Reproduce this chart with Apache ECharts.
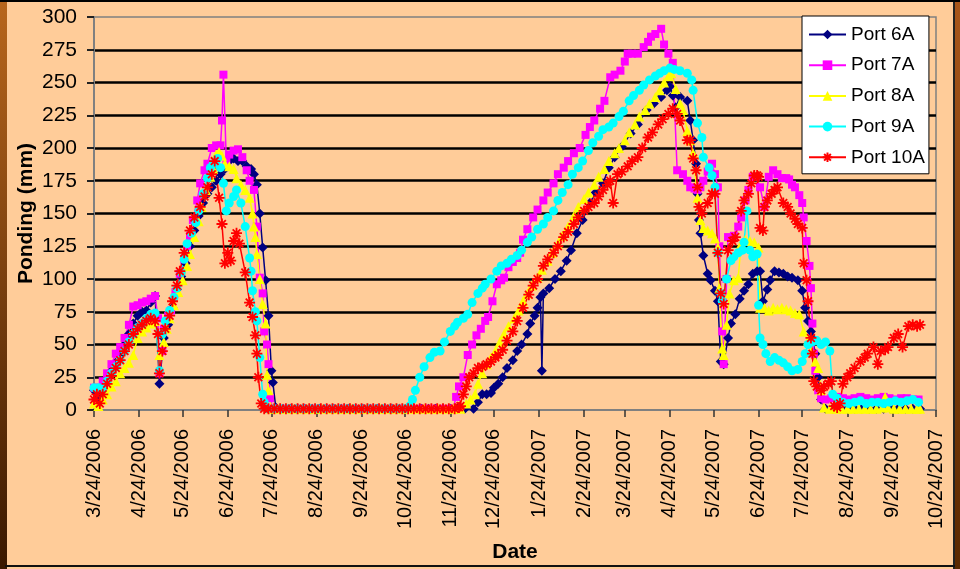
<!DOCTYPE html>
<html>
<head>
<meta charset="utf-8">
<script src="https://cdn.jsdelivr.net/npm/echarts@6/dist/echarts.min.js"></script>
<style>
  html, body { margin: 0; padding: 0; background: #FFCC99; }
  #chart { width: 960px; height: 569px; }
</style>
</head>
<body>
<div id="chart"></div>
<script>
// x values are days since 3/24/2006, y values are ponding in mm
const tickLabels = ["3/24/2006", "4/24/2006", "5/24/2006", "6/24/2006", "7/24/2006", "8/24/2006",
  "9/24/2006", "10/24/2006", "11/24/2006", "12/24/2006", "1/24/2007", "2/24/2007", "3/24/2007",
  "4/24/2007", "5/24/2007", "6/24/2007", "7/24/2007", "8/24/2007", "9/24/2007", "10/24/2007"];
const yTicks = [0, 25, 50, 75, 100, 125, 150, 175, 200, 225, 250, 275, 300];

const port6A = [
  [0,15],[3,10],[6,18],[9,25],[12,30],[15,36],[18,42],[21,50],[24,58],[27,66],[30,72],[33,75],[36,76],[39,82],[42,87],[45,20],
  [48,55],[51,65],[54,78],[57,92],[60,102],[63,112],[66,125],[69,137],[72,148],[75,158],[78,165],[81,170],[84,175],[87,180],
  [90,184],[93,190],[96,192],[99,190],[102,190],[105,186],[108,184],[110,180],[112,172],[114,150],[116,124],[118,99],[120,72],
  [122,30],[123,21],[125,2],
  [130,1],[135,1],[140,1],[145,1],[150,1],[155,1],[160,1],[165,1],[170,1],[175,1],[180,1],[185,1],[190,1],[195,1],[200,1],
  [205,1],[210,1],[215,1],[220,1],[225,1],[230,1],[235,1],[240,1],[245,1],[250,1],[255,1],
  [261,1],[264,6],[267,12],[270,12],[273,13],[275,17],[278,20],[281,25],[284,32],[288,38],[291,45],[294,50],[298,58],[300,66],
  [303,72],[305,78],[307,86],[308,30],[309,89],[313,93],[317,100],[321,106],[325,114],[328,122],[332,135],[336,145],[341,158],
  [345,166],[350,173],[354,185],[358,193],[363,201],[369,211],[374,218],[380,229],[385,234],[390,239],[394,244],[396,247],
  [398,240],[400,231],[403,239],[408,236],[410,221],[412,206],[414,188],[415,165],[416,145],[417,135],[419,118],[422,104],
  [424,99],[427,91],[429,83],[431,37],[433,35],[436,55],[438,66],[441,73],[444,85],[447,91],[450,96],[453,104],[456,106],
  [458,106],[460,83],[463,92],[465,99],[468,106],[471,105],[474,104],[477,102],[480,101],[484,99],[487,91],[489,78],[491,68],
  [493,60],[494,55],[496,43],[498,25],[500,8],[503,1],
  [508,1],[513,1],[518,1],[523,1],[528,1],[533,1],[538,1],[543,1],[548,1],[553,1],[558,1],[563,1],[568,1]
];

const port7A = [
  [0,17],[3,17],[6,22],[9,28],[12,35],[15,43],[18,48],[21,55],[24,65],[27,79],[30,80],[33,82],[36,83],[39,85],[42,87],[44,70],
  [45,28],[47,45],[48,62],[51,72],[53,76],[56,90],[59,104],[62,115],[64,125],[66,133],[68,145],[71,160],[73,173],[76,183],
  [78,188],[81,200],[84,202],[87,202],[88,221],[89,256],[91,190],[93,195],[96,198],[99,199],[102,193],[105,183],[107,175],
  [110,168],[112,140],[114,101],[116,89],[117,60],[119,50],[120,35],[121,9],[123,1],
  [128,1],[133,1],[138,1],[143,1],[148,1],[153,1],[158,1],[163,1],[168,1],[173,1],[178,1],[183,1],[188,1],[193,1],[198,1],
  [203,1],[208,1],[213,1],[218,1],[223,1],[228,1],[233,1],[238,1],[243,1],[247,1],
  [249,10],[251,18],[254,25],[257,42],[260,50],[263,57],[266,62],[269,68],[271,71],[274,83],[277,96],[280,99],[282,101],
  [285,109],[288,113],[291,116],[293,120],[295,130],[298,138],[302,147],[305,153],[309,160],[312,166],[316,173],[319,180],
  [323,185],[326,190],[330,196],[334,200],[338,210],[341,216],[344,221],[348,230],[351,236],[355,254],[358,256],[362,259],
  [365,266],[367,272],[370,272],[374,272],[378,277],[381,281],[383,285],[386,287],[390,291],[392,279],[395,272],[398,265],
  [401,183],[405,180],[408,175],[410,170],[413,169],[415,168],[417,170],[419,175],[422,182],[425,188],[427,180],[429,170],
  [430,125],[432,60],[433,35],[435,100],[436,132],[440,133],[443,140],[445,147],[448,160],[450,168],[453,178],[455,178],
  [458,170],[461,155],[464,178],[467,183],[470,180],[473,177],[476,177],[478,176],[480,172],[482,170],[485,164],[487,158],
  [488,147],[490,129],[492,110],[493,93],[494,66],[495,43],[496,30],[498,15],[500,9],[503,8],[507,9],[511,10],[515,9],
  [519,8],[523,9],[527,10],[531,9],[535,8],[539,9],[543,10],[547,9],[551,8],[555,9],[559,9],[563,8],[567,8]
];

const port8A = [
  [0,5],[3,3],[6,8],[9,12],[12,18],[15,22],[18,28],[21,32],[24,36],[27,42],[30,55],[33,60],[36,63],[39,66],[42,68],[45,42],
  [48,52],[50,62],[52,70],[55,80],[58,90],[61,99],[64,110],[66,119],[69,132],[72,144],[74,155],[77,168],[80,178],[82,184],
  [84,195],[86,197],[88,194],[90,188],[93,186],[96,184],[98,177],[101,172],[104,168],[107,162],[109,150],[110,140],[111,132],
  [112,119],[114,100],[116,81],[118,66],[119,27],[120,15],[122,1],
  [127,1],[132,1],[137,1],[142,1],[147,1],[152,1],[157,1],[162,1],[167,1],[172,1],[177,1],[182,1],[187,1],[192,1],[197,1],
  [202,1],[207,1],[212,1],[217,1],[222,1],[227,1],[232,1],[237,1],[242,1],[247,1],[252,1],
  [256,5],[259,8],[262,12],[264,20],[267,28],[270,35],[273,40],[276,45],[279,52],[282,58],[285,64],[289,70],[292,76],
  [295,83],[298,89],[301,95],[305,101],[308,107],[312,114],[315,120],[319,127],[322,133],[326,140],[330,148],[333,155],
  [337,161],[340,166],[344,172],[347,178],[351,184],[354,190],[358,196],[361,200],[365,206],[368,212],[372,218],[375,224],
  [379,229],[382,234],[386,239],[389,244],[392,250],[395,255],[397,257],[400,245],[403,234],[405,229],[408,213],[410,206],
  [412,196],[415,162],[417,145],[419,139],[422,137],[425,135],[427,131],[429,124],[430,93],[432,47],[433,42],[435,65],
  [437,89],[440,99],[443,101],[445,127],[448,130],[451,129],[454,128],[457,124],[458,78],[461,78],[464,76],[467,78],
  [470,77],[473,78],[476,77],[479,76],[482,74],[485,73],[488,60],[491,53],[493,45],[496,37],[498,32],[500,15],[502,2],
  [506,1],[510,1],[514,1],[518,1],[522,1],[526,1],[530,1],[534,1],[538,1],[542,2],[544,10],[546,2],[550,1],[554,1],
  [558,1],[562,1],[566,1],[568,1]
];

const port9A = [
  [0,17],[3,17],[6,16],[9,22],[12,28],[15,33],[18,38],[21,45],[24,52],[27,58],[30,63],[33,66],[36,70],[39,73],[42,74],[45,30],
  [47,58],[49,68],[52,76],[55,86],[57,93],[60,105],[62,115],[64,127],[67,135],[70,143],[72,152],[75,165],[78,177],[80,185],
  [82,188],[85,192],[87,185],[89,173],[91,152],[93,158],[96,163],[98,168],[101,158],[104,140],[107,116],[108,106],[109,91],
  [111,75],[112,68],[114,40],[116,12],[117,6],[119,1],
  [124,1],[129,1],[134,1],[139,1],[144,1],[149,1],[154,1],[159,1],[164,1],[169,1],[174,1],[179,1],[184,1],[189,1],[194,1],
  [199,1],[204,1],[209,1],[214,1],
  [217,3],[219,8],[221,15],[224,25],[227,33],[231,40],[234,44],[238,45],[241,52],[245,60],[248,64],[250,67],[254,70],
  [257,73],[260,82],[264,89],[267,93],[269,96],[273,100],[277,106],[280,110],[284,112],[287,115],[291,118],[294,122],
  [298,128],[301,132],[305,138],[309,142],[312,147],[316,152],[319,160],[322,166],[326,172],[329,180],[333,185],[336,190],
  [340,198],[343,204],[347,209],[350,214],[354,216],[357,219],[361,224],[364,228],[368,236],[371,240],[375,244],[378,248],
  [382,252],[386,255],[389,257],[392,259],[396,261],[399,260],[403,259],[408,257],[411,252],[412,244],[415,219],[418,208],
  [419,193],[423,185],[425,179],[427,170],[429,120],[431,89],[432,83],[435,100],[438,114],[440,117],[443,120],[446,122],
  [447,128],[449,152],[451,122],[453,117],[456,119],[457,80],[458,55],[460,50],[462,43],[465,37],[468,40],[471,38],
  [474,36],[477,33],[480,30],[484,31],[487,37],[489,43],[491,50],[494,52],[497,53],[500,50],[503,52],[506,45],[508,12],
  [511,9],[515,6],[519,5],[523,6],[527,7],[531,5],[535,6],[539,6],[543,5],[547,6],[551,7],[555,6],[559,7],[563,8],[567,6]
];

const port10A = [
  [0,8],[2,12],[4,5],[6,12],[9,20],[12,26],[15,32],[18,38],[21,45],[24,50],[27,58],[30,62],[33,65],[36,68],[39,70],[42,68],
  [44,58],[45,28],[47,45],[49,62],[52,72],[54,83],[57,95],[59,106],[62,120],[66,137],[69,147],[73,155],[76,163],[78,170],
  [81,180],[83,190],[86,162],[88,142],[90,112],[92,120],[94,114],[96,129],[98,135],[100,127],[104,105],[107,82],[109,71],
  [111,57],[112,43],[113,25],[115,5],[117,1],
  [120,1],[124,1],[128,1],[132,1],[136,1],[140,1],[144,1],[148,1],[152,1],[156,1],[160,1],[164,1],[168,1],[172,1],[176,1],
  [180,1],[184,1],[188,1],[192,1],[196,1],[200,1],[204,1],[208,1],[212,1],[216,1],[220,1],[224,1],[228,1],[232,1],[236,1],
  [240,1],[244,1],[248,1],[251,2],
  [252,3],[254,12],[256,18],[258,25],[261,28],[264,32],[267,33],[270,35],[273,37],[276,40],[278,42],[281,46],[284,53],
  [288,60],[291,68],[295,78],[299,88],[302,95],[305,100],[309,110],[312,115],[316,120],[319,125],[323,132],[326,136],
  [330,142],[333,147],[337,152],[340,155],[344,158],[347,163],[350,168],[353,172],[355,175],[357,158],[360,180],[363,182],
  [367,186],[370,190],[374,193],[377,200],[381,208],[384,212],[388,218],[391,222],[395,226],[398,230],[401,226],[403,221],
  [408,206],[410,206],[412,192],[414,183],[415,170],[416,155],[418,150],[422,158],[425,165],[427,165],[429,120],[431,89],
  [433,81],[436,122],[439,129],[441,132],[445,152],[447,160],[450,165],[452,173],[454,179],[456,179],[457,178],[458,139],
  [460,137],[461,155],[463,160],[466,165],[468,168],[470,170],[474,158],[477,155],[479,150],[482,146],[484,142],[487,139],
  [488,112],[490,99],[491,83],[493,55],[494,43],[495,22],[497,18],[500,15],[502,18],[505,20],[507,22],[509,3],[511,2],
  [513,5],[515,20],[518,25],[520,28],[523,32],[527,37],[530,40],[532,43],[536,48],[539,35],[541,45],[544,46],[546,48],
  [550,55],[553,58],[556,48],[560,64],[563,65],[566,64],[568,65]
];

// day offsets of the month ticks, from the tick labels
const toUTC = (s) => { const p = s.split("/").map(Number); return Date.UTC(p[2], p[0] - 1, p[1]); };
const tickDays = tickLabels.map((s) => Math.round((toUTC(s) - toUTC(tickLabels[0])) / 86400000));

const FONT = "Liberation Sans, Arial, sans-serif";
const asterisk = "path://M5,0L5,10M0,5L10,5M1.5,1.5L8.5,8.5M8.5,1.5L1.5,8.5";

function lineSeries(name, data, color, symbol, size, extra) {
  return Object.assign({
    name: name,
    type: "line",
    data: data,
    symbol: symbol,
    symbolSize: size,
    showAllSymbol: true,
    lineStyle: { color: color, width: 1.5 },
    itemStyle: { color: color },
    emphasis: { disabled: true },
  }, extra || {});
}

const chart = echarts.init(document.getElementById("chart"));
chart.setOption({
  animation: false,
  backgroundColor: "#FFCC99",
  textStyle: { fontFamily: FONT },
  graphic: [
    { type: "rect", shape: { x: 0, y: 0, width: 7, height: 569 },
      style: { fill: new echarts.graphic.LinearGradient(0, 0, 0, 1, [
        { offset: 0, color: "#b8661c" }, { offset: 1, color: "#3a1800" }]) } },
    { type: "rect", shape: { x: 953, y: 0, width: 7, height: 569 },
      style: { fill: new echarts.graphic.LinearGradient(0, 0, 0, 1, [
        { offset: 0, color: "#a8561a" }, { offset: 1, color: "#5a2800" }]) } },
    { type: "rect", shape: { x: 953, y: 0, width: 2, height: 569 }, style: { fill: "#222" } },
    { type: "rect", shape: { x: 0, y: 0, width: 960, height: 2 }, style: { fill: "#000" } },
    { type: "rect", shape: { x: 5, y: 565, width: 950, height: 2 }, style: { fill: "#111" } },
  ],
  grid: {
    left: 94, right: 24, top: 17, bottom: 159,
    show: true, borderColor: "#808080", borderWidth: 1.5, backgroundColor: "transparent",
  },
  legend: {
    orient: "vertical",
    left: 802, top: 16,
    backgroundColor: "#ffffff",
    borderColor: "#000000", borderWidth: 1,
    padding: [9, 4, 7, 6],
    itemGap: 11.7,
    itemWidth: 37, itemHeight: 12,
    textStyle: { fontSize: 19, color: "#000", fontFamily: FONT },
  },
  xAxis: {
    type: "value",
    min: 0, max: tickDays[tickDays.length - 1],
    name: "Date",
    nameLocation: "middle",
    nameGap: 132,
    nameMoveOverlap: false,
    nameTextStyle: { fontSize: 21, fontWeight: "bold", color: "#000", fontFamily: FONT },
    axisLine: { show: true, lineStyle: { color: "#808080", width: 2 } },
    axisTick: { show: true, customValues: tickDays, length: 7, lineStyle: { color: "#333", width: 1.5 } },
    axisLabel: {
      customValues: tickDays,
      rotate: 90,
      margin: 19,
      fontSize: 20,
      color: "#000",
      fontFamily: FONT,
      formatter: (v) => tickLabels[tickDays.indexOf(Math.round(v))] || "",
    },
    splitLine: { show: false },
  },
  yAxis: {
    type: "value",
    min: yTicks[0], max: yTicks[yTicks.length - 1], interval: 25,
    name: "Ponding (mm)",
    nameLocation: "middle",
    nameGap: 57,
    nameMoveOverlap: false,
    nameTextStyle: { fontSize: 21, fontWeight: "bold", color: "#000", fontFamily: FONT },
    axisLine: { show: true, lineStyle: { color: "#808080", width: 2 } },
    axisTick: { show: true, length: 7, lineStyle: { color: "#222", width: 2 } },
    axisLabel: { fontSize: 21, color: "#000", margin: 17, fontFamily: FONT },
    splitLine: { show: true, showMinLine: false, showMaxLine: false, lineStyle: { color: "#000", width: 2.5 } },
  },
  series: [
    lineSeries("Port 6A", port6A, "#000080", "diamond", 10),
    lineSeries("Port 7A", port7A, "#FF00FF", "rect", 8),
    lineSeries("Port 8A", port8A, "#FFFF00", "triangle", 10),
    lineSeries("Port 9A", port9A, "#00FFFF", "circle", 9),
    lineSeries("Port 10A", port10A, "#FF0000", asterisk, 11,
      { itemStyle: { color: "#FF0000", borderColor: "#FF0000", borderWidth: 1.8 } }),
  ],
});
</script>
</body>
</html>
